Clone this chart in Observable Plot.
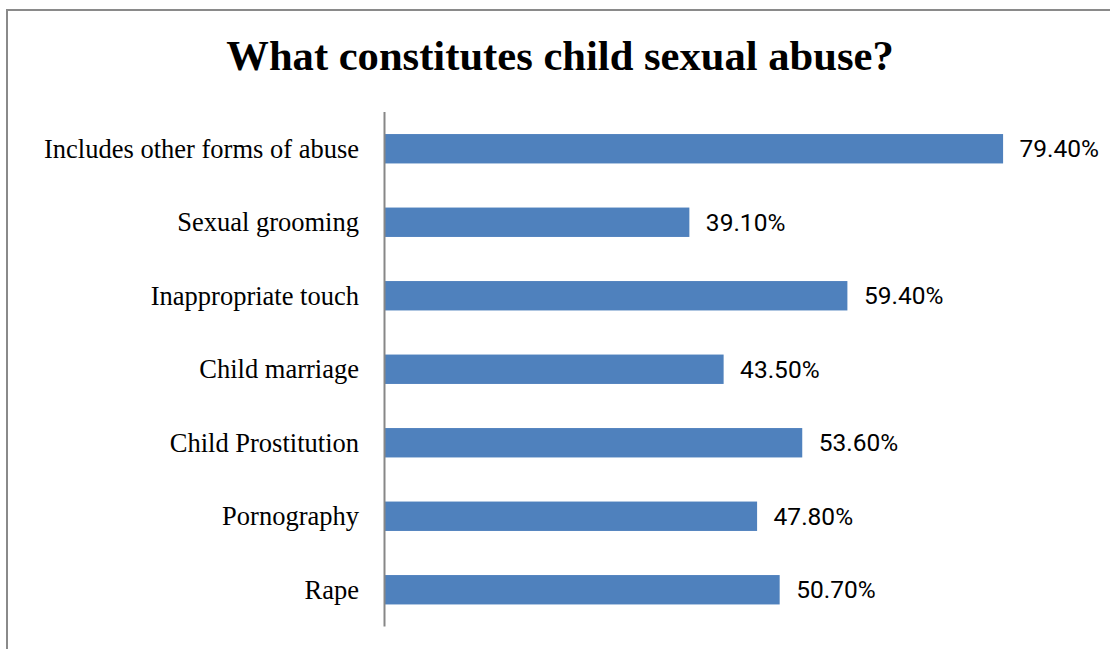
<!DOCTYPE html>
<html>
<head>
<meta charset="utf-8">
<script src="https://cdn.jsdelivr.net/npm/d3@7"></script>
<script src="https://cdn.jsdelivr.net/npm/@observablehq/plot@0.6"></script>
<style>
  html, body { margin: 0; padding: 0; background: #fff; }
  body { width: 1110px; height: 649px; overflow: hidden; position: relative; }
  #frame { position: absolute; left: 6px; top: 9px; width: 1300px; height: 800px; border: 2px solid #8a8a8a; box-sizing: border-box; }
  #title { position: absolute; left: 5px; top: 35px; width: 1110px; text-align: center;
           font-family: "Liberation Serif", "Times New Roman", serif; font-weight: bold; font-size: 42.6px; line-height: 1; color: #000; }
  #chart { position: absolute; left: 0; top: 100px; }
</style>
</head>
<body>
<div id="frame"></div>
<div id="title">What constitutes child sexual abuse?</div>
<div id="chart"></div>
<script>
const categories = [
  "Includes other forms of abuse",
  "Sexual grooming",
  "Inappropriate touch",
  "Child marriage",
  "Child Prostitution",
  "Pornography",
  "Rape"
];
const values = [79.4, 39.1, 59.4, 43.5, 53.6, 47.8, 50.7];

const data = categories.map((c, i) => ({category: c, value: values[i]}));

const chart = Plot.plot({
  width: 1110,
  height: 549,
  marginLeft: 385,
  marginRight: 24.4,
  marginTop: 12,
  marginBottom: 22.5,
  style: {background: "transparent", overflow: "visible"},
  x: {domain: [0, 90], axis: null},
  y: {domain: categories, paddingInner: 0.6, paddingOuter: 0.3, round: false, label: null},
  marks: [
    Plot.barX(data, {x: "value", y: "category", fill: "#4f81bd"}),
    Plot.ruleX([0], {stroke: "#878787", strokeWidth: 2, dx: -1}),
    Plot.axisY({tickSize: 0, tickPadding: 26.5, fontSize: 26.5, fontFamily: "Liberation Serif", fill: "#000", label: null}),
    Plot.text(data, {x: "value", y: "category", text: d => d.value.toFixed(2) + "%", dx: 16, textAnchor: "start",
      fontSize: 24.5, fontFamily: "Roboto, sans-serif", fill: "#000"})
  ]
});
document.getElementById("chart").appendChild(chart);
</script>
</body>
</html>
